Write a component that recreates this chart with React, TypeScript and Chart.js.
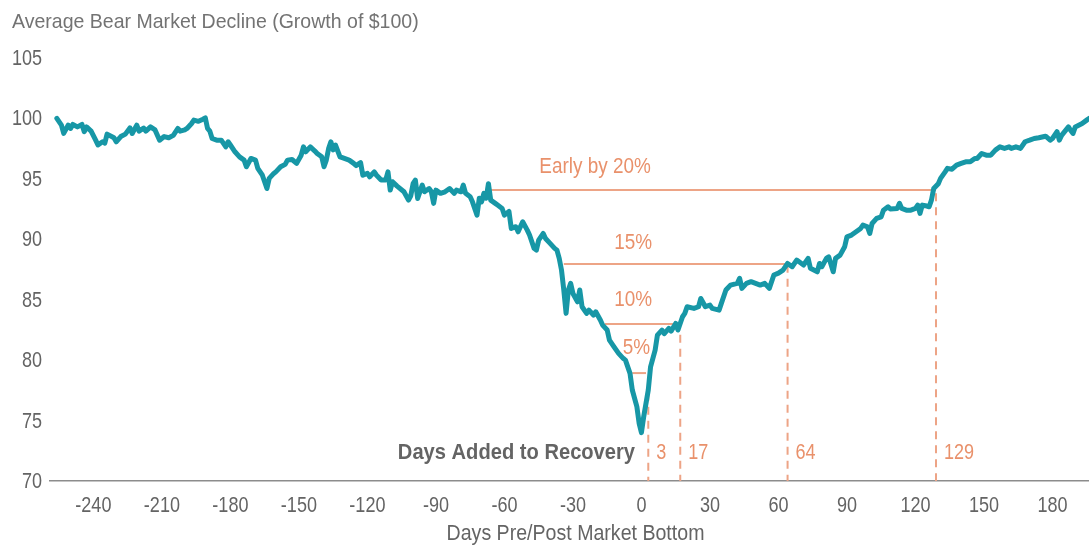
import React, { useEffect, useRef } from 'react';
import { Chart, registerables } from 'chart.js';

Chart.register(...registerables);

// ---- data (days relative to market bottom, growth of $100) ----
const days = [
  -256, -254, -253, -251, -250, -249, -247, -245, -244, -243, -241, -239, -238, -236, -235, -234,
  -231, -230, -228, -226, -224, -223, -221, -220, -218, -217, -215, -213, -211, -209, -207, -205,
  -203, -202, -200, -199, -197, -196, -194, -192, -191, -190, -189, -188, -186, -184, -182, -181,
  -180, -178, -176, -174, -173, -171, -169, -168, -166, -164, -163, -161, -160, -158, -156, -155,
  -153, -151, -149, -148, -147, -145, -143, -142, -140, -139, -138, -137, -136, -135, -134, -132,
  -131, -128, -126, -125, -123, -122, -120, -119, -117, -116, -114, -112, -111, -110, -109, -107,
  -104, -102, -101, -100, -99, -98, -96, -95, -93, -92, -91, -90, -88, -86, -84, -82,
  -81, -79, -78, -77, -75, -74, -72, -71, -70, -69, -68, -67, -66, -64, -63, -61,
  -60, -58, -57, -55, -54, -53, -52, -50, -49, -47, -46, -45, -43, -42, -40, -38,
  -37, -36, -35, -34, -33, -32, -31, -30, -28, -27, -26, -24, -23, -21, -20, -18,
  -17, -15, -14, -12, -10, -8, -7, -5, -4, -2, -1, 0, 1, 3, 4, 6,
  7, 9, 10, 12, 13, 15, 16, 18, 19, 20, 23, 25, 26, 28, 30, 31,
  34, 35, 37, 39, 42, 43, 44, 46, 48, 50, 52, 54, 56, 58, 60, 62,
  64, 66, 68, 71, 73, 74, 77, 78, 79, 81, 82, 84, 85, 87, 89, 90,
  92, 94, 96, 97, 99, 100, 101, 103, 105, 106, 108, 109, 112, 113, 114, 116,
  118, 120, 121, 122, 123, 125, 126, 127, 128, 130, 131, 133, 134, 136, 138, 140,
  142, 144, 146, 147, 149, 151, 153, 155, 157, 159, 161, 162, 164, 166, 168, 170,
  172, 174, 177, 179, 180, 182, 183, 184, 187, 188, 189, 190, 193, 195, 196,
];

const values = [
  100.0, 99.45, 98.76, 99.45, 99.17, 99.5, 99.3, 99.5, 98.9, 99.3, 98.95, 98.2, 97.8, 98.07, 97.95, 98.7,
  98.4, 98.07, 98.5, 98.7, 99.22, 98.75, 99.45, 98.95, 99.2, 98.95, 99.3, 99.05, 98.2, 98.5, 98.4, 98.6,
  99.17, 98.95, 99.05, 99.17, 99.58, 99.86, 99.76, 99.94, 100.05, 99.17, 98.95, 98.34, 98.2, 98.2, 97.65, 98.07,
  97.8, 97.24, 96.82, 96.55, 96.0, 96.69, 96.55, 95.87, 95.3, 94.2, 95.04, 95.45, 95.6, 96.0, 96.2, 96.55,
  96.6, 96.28, 96.96, 97.65, 97.24, 97.65, 97.3, 97.1, 96.82, 96.0, 96.55, 97.5, 98.07, 97.4, 97.8, 96.82,
  96.75, 96.55, 96.28, 96.1, 96.35, 95.3, 95.45, 95.17, 95.58, 95.3, 94.9, 94.9, 95.58, 94.07, 94.76, 94.4,
  93.93, 93.24, 93.6, 94.6, 94.9, 93.38, 94.48, 93.93, 94.2, 93.93, 92.97, 94.07, 93.8, 93.93, 94.2, 93.8,
  94.07, 93.93, 94.48, 93.8, 93.52, 93.1, 92.0, 93.4, 93.1, 93.8, 93.4, 94.6, 93.24, 92.97, 92.83, 92.55,
  92.0, 92.3, 90.9, 91.04, 90.62, 91.04, 91.45, 90.76, 90.35, 89.25, 89.1, 89.93, 90.48, 90.07, 89.66, 89.25,
  89.1, 88.42, 87.45, 85.8, 83.87, 85.8, 86.35, 85.52, 84.83, 85.8, 84.42, 83.87, 84.14, 83.73, 84.0, 83.32,
  82.9, 82.49, 81.66, 81.1, 80.56, 80.15, 80.0, 78.9, 77.53, 76.15, 74.77, 74.0, 75.32, 77.53, 79.45, 80.83,
  82.07, 82.49, 82.2, 82.63, 82.4, 83.04, 82.49, 83.59, 83.87, 84.42, 84.28, 84.42, 85.1, 84.42, 84.55, 84.28,
  84.14, 84.7, 85.8, 86.21, 86.35, 86.77, 85.94, 86.35, 86.49, 86.35, 86.21, 86.35, 85.94, 87.04, 87.2, 87.45,
  88.0, 87.73, 88.28, 87.87, 88.42, 87.6, 87.31, 88.0, 87.73, 88.42, 88.55, 87.31, 88.42, 88.69, 89.38, 90.2,
  90.35, 90.62, 90.9, 91.17, 91.03, 90.48, 91.31, 91.73, 91.86, 92.41, 92.69, 92.5, 92.55, 92.97, 92.55, 92.41,
  92.41, 92.55, 92.83, 92.14, 92.83, 92.75, 92.69, 93.24, 94.2, 94.6, 95.04, 95.58, 95.87, 95.8, 96.14, 96.28,
  96.41, 96.41, 96.69, 96.69, 97.1, 96.96, 96.96, 97.38, 97.65, 97.52, 97.65, 97.52, 97.65, 97.52, 98.07, 98.2,
  98.34, 98.4, 98.53, 98.2, 98.34, 98.9, 98.2, 98.6, 99.3, 99.0, 98.76, 99.3, 99.58, 99.86, 100.0,
];

const xTicks = [-240, -210, -180, -150, -120, -90, -60, -30, 0, 30, 60, 90, 120, 150, 180];
const yTicks = [70, 75, 80, 85, 90, 95, 100, 105];

// recovery-level annotations
const levelLabels = ['5%', '10%', '15%', 'Early by 20%'];
const levelValues = [78.93, 82.99, 87.95, 94.07];
const levelStart = [-4, -16, -34, -67];
const levelEnd = [2, 14, 63, 129];
const levelLabelDay = [-2.2, -3.6, -3.6, -20.3];
const levelLabelValue = [81.0, 85.0, 89.7, 96.0];

const recoveryDays = [3, 17, 64, 129];
const recoveryLabels = ['3', '17', '64', '129'];
const recoveryTop = [77.3, 82.1, 87.9, 93.8];
const recoveryLabelValue = 72.3;
const recoveryCaption = 'Days Added to Recovery';
const recoveryCaptionDay = -2.8;

const chartTitle = 'Average Bear Market Decline (Growth of $100)';
const xAxisTitle = 'Days Pre/Post Market Bottom';

// Arial-metric font, horizontally condensed when drawn to mimic a condensed face
const FONT = '"Liberation Sans", Arial, sans-serif';
const TEAL = '#1797A6';
const ORANGE_TEXT = '#E9916B';
const ORANGE_LINE = '#EDA486';
const GRAY = '#646464';
const TITLE_GRAY = '#737373';

function drawText(
  ctx: CanvasRenderingContext2D,
  text: string,
  x: number,
  y: number,
  size: number,
  color: string,
  align: 'left' | 'right' | 'center',
  sx: number,
  bold = false,
) {
  ctx.save();
  ctx.font = `${bold ? 'bold ' : ''}${size}px ${FONT}`;
  ctx.fillStyle = color;
  ctx.textBaseline = 'middle';
  ctx.textAlign = 'left';
  const w = ctx.measureText(text).width * sx;
  const left = align === 'left' ? x : align === 'right' ? x - w : x - w / 2;
  ctx.translate(left, y);
  ctx.scale(sx, 1);
  ctx.fillText(text, 0, 0);
  ctx.restore();
}

const annotations = {
  id: 'annotations',
  beforeDatasetsDraw(chart: any) {
    const { ctx, scales } = chart;
    const x = scales.x;
    const y = scales.y;
    ctx.save();
    ctx.strokeStyle = ORANGE_LINE;
    ctx.lineWidth = 2;
    levelValues.forEach((v, i) => {
      const py = y.getPixelForValue(v);
      ctx.beginPath();
      ctx.moveTo(x.getPixelForValue(levelStart[i]), py);
      ctx.lineTo(x.getPixelForValue(levelEnd[i]), py);
      ctx.stroke();
    });
    ctx.setLineDash([8, 6]);
    recoveryDays.forEach((d, i) => {
      const px = x.getPixelForValue(d);
      ctx.beginPath();
      ctx.moveTo(px, y.getPixelForValue(recoveryTop[i]));
      ctx.lineTo(px, y.getPixelForValue(70));
      ctx.stroke();
    });
    ctx.restore();
  },
  afterDraw(chart: any) {
    const { ctx, scales, chartArea } = chart;
    const x = scales.x;
    const y = scales.y;

    drawText(ctx, chartTitle, 12, 22, 21, TITLE_GRAY, 'left', 0.93);

    // tick labels
    yTicks.forEach((v) => {
      drawText(ctx, String(v), chartArea.left - 8, y.getPixelForValue(v) + 1, 22, GRAY, 'right', 0.82);
    });
    xTicks.forEach((v) => {
      drawText(ctx, String(v), x.getPixelForValue(v), chartArea.bottom + 25, 22, GRAY, 'center', 0.82);
    });

    drawText(ctx, xAxisTitle, (chartArea.left + chartArea.right) / 2 + 6, 534, 22, GRAY, 'center', 0.89);

    levelLabels.forEach((t, i) => {
      drawText(
        ctx,
        t,
        x.getPixelForValue(levelLabelDay[i]),
        y.getPixelForValue(levelLabelValue[i]),
        22,
        ORANGE_TEXT,
        'center',
        0.86,
      );
    });

    recoveryLabels.forEach((t, i) => {
      drawText(
        ctx,
        t,
        x.getPixelForValue(recoveryDays[i]) + 8,
        y.getPixelForValue(recoveryLabelValue),
        22,
        ORANGE_TEXT,
        'left',
        0.82,
      );
    });

    drawText(
      ctx,
      recoveryCaption,
      x.getPixelForValue(recoveryCaptionDay),
      y.getPixelForValue(recoveryLabelValue),
      22,
      GRAY,
      'right',
      0.915,
      true,
    );
  },
};

export default function App() {
  const canvasRef = useRef<HTMLCanvasElement | null>(null);

  useEffect(() => {
    document.body.style.margin = '0';
    const canvas = canvasRef.current;
    if (!canvas) return;
    const chart = new Chart(canvas, {
      type: 'line',
      data: {
        datasets: [
          {
            data: days.map((d, i) => ({ x: d, y: values[i] })),
            borderColor: TEAL,
            borderWidth: 5,
            pointRadius: 0,
            tension: 0,
            fill: false,
            borderJoinStyle: 'round',
            borderCapStyle: 'round',
          } as any,
        ],
      },
      options: {
        animation: false,
        responsive: false,
        maintainAspectRatio: false,
        devicePixelRatio: 1,
        layout: { padding: { top: 58, right: 0, bottom: 0, left: 0 } },
        plugins: {
          legend: { display: false },
          tooltip: { enabled: false },
          title: { display: false },
        },
        scales: {
          x: {
            type: 'linear',
            min: -259,
            max: 196,
            grid: { display: false, drawTicks: false },
            border: { display: true, color: '#8c8c8c', width: 1.5 },
            afterBuildTicks: (s: any) => {
              s.ticks = xTicks.map((v) => ({ value: v }));
            },
            afterFit: (s: any) => {
              s.height = 65;
            },
            ticks: { display: false },
          },
          y: {
            type: 'linear',
            min: 70,
            max: 105,
            grid: { display: false, drawTicks: false },
            border: { display: false },
            afterBuildTicks: (s: any) => {
              s.ticks = yTicks.map((v) => ({ value: v }));
            },
            afterFit: (s: any) => {
              s.width = 50;
            },
            ticks: { display: false },
          },
        },
      } as any,
      plugins: [annotations],
    });
    return () => chart.destroy();
  }, []);

  return (
    <div style={{ width: 1089, height: 546, background: '#fff' }}>
      <canvas ref={canvasRef} width={1089} height={546} style={{ width: 1089, height: 546, display: 'block' }} />
    </div>
  );
}
